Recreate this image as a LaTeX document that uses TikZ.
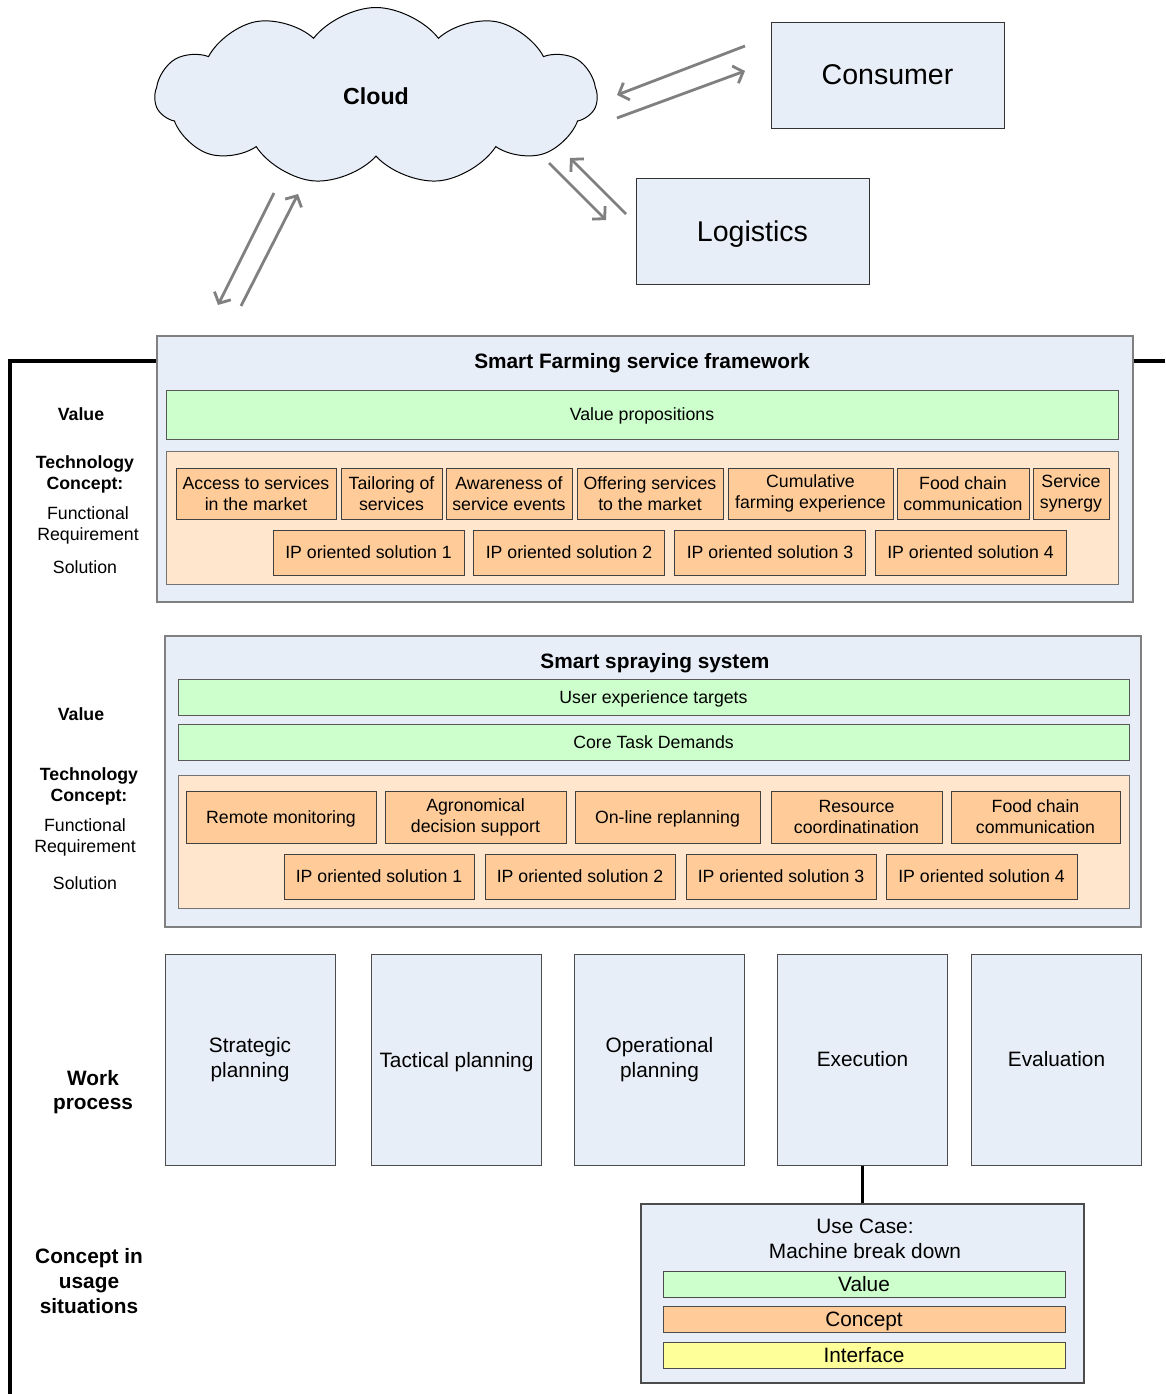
\documentclass[tikz,border=0pt]{standalone}
\usepackage{fontspec}
\setmainfont{Liberation Sans}
\usetikzlibrary{shapes.symbols,arrows.meta}

\definecolor{paneblue}{RGB}{232,238,247}
\definecolor{valgreen}{RGB}{204,255,204}
\definecolor{concpeach}{RGB}{255,230,204}
\definecolor{fncorange}{RGB}{255,204,153}
\definecolor{ifyellow}{RGB}{255,255,153}
\definecolor{arrowgray}{RGB}{128,128,128}

\newcommand{\fsmall}{\fontsize{12.6}{15}\selectfont}
\newcommand{\fmid}{\fontsize{14.8}{17.6}\selectfont}
\newcommand{\flarge}{\fontsize{20.3}{24}\selectfont}

\tikzset{
  wh/.style 2 args={minimum width=#1*0.025cm, minimum height=#2*0.025cm},
  oneline/.style={text depth=0pt},
  pane/.style={draw=gray, fill=paneblue, line width=0.8pt, inner sep=0pt},
  actor/.style={draw=black!80, fill=paneblue, line width=0.7pt, inner sep=0pt, font=\flarge, wh={233}{106}},
  valbar/.style={draw=black!65, fill=valgreen, line width=0.7pt, inner sep=0pt, font=\fsmall, oneline},
  concbg/.style={draw=black!55, fill=concpeach, line width=0.7pt, inner sep=0pt},
  fnc/.style={draw=black!75, fill=fncorange, line width=0.7pt, inner sep=0pt, align=center, font=\fsmall},
  workbox/.style={draw=black!70, fill=paneblue, line width=0.7pt, inner sep=0pt, align=center, font=\fmid, wh={170}{211}},
  casebar/.style={draw=black!70, line width=0.7pt, inner sep=0pt, font=\fmid, oneline, wh={402}{26}},
  rowlabel/.style={align=center, font=\fsmall, inner sep=0pt},
  flow/.style={draw=arrowgray, line width=2pt, -{Straight Barb[length=6pt,width=13pt]}},
  frame/.style={draw=black, line width=2.2pt}
}

\begin{document}
\begin{tikzpicture}[x=0.025cm, y=-0.025cm]
\useasboundingbox (0,0) rectangle (1165,1394);

\draw[frame] (10,1394) |- (1165,361);

\node[cloud, cloud puffs=11, cloud puff arc=105, draw=black, line width=0.7pt, fill=paneblue,
  wh={442}{177}, inner sep=0pt, font=\fontsize{16.5}{20}\selectfont\bfseries] (cloud) at (376,96) {Cloud};
\node[actor] (consumer) at (887.5,75) {Consumer};
\node[actor, oneline] (logistics) at (752.5,231) {Logistics};

\coordinate (cons1) at (745,46);
\coordinate (cons2) at (617,95);
\coordinate (cons3) at (617,118);
\coordinate (cons4) at (745,71);
\coordinate (logi1) at (549,163);
\coordinate (logi2) at (606,220);
\coordinate (logi3) at (626,214);
\coordinate (logi4) at (570,158);
\coordinate (fram1) at (274,193);
\coordinate (fram2) at (218,305);
\coordinate (fram3) at (241,306);
\coordinate (fram4) at (298,194);
\draw[flow] (cons1) -- (cons2);
\draw[flow] (cons3) -- (cons4);
\draw[flow] (logi1) -- (logi2);
\draw[flow] (logi3) -- (logi4);
\draw[flow] (fram1) -- (fram2);
\draw[flow] (fram3) -- (fram4);

\node[pane, wh={976}{266}] (farming) at (645,469) {};
\node[font=\fontsize{14.8}{17.6}\selectfont\bfseries, oneline] (farmtitle) at (642,361) {Smart Farming service framework};
\node[valbar, wh={952}{49}] (propositions) at (642,414.5) {Value propositions};
\node[concbg, wh={952}{133}] (farmconc) at (642,517.5) {};
\node[fnc, wh={160}{51}] (access) at (256,493.5) {Access to services\\in the market};
\node[fnc, wh={101}{51}] (tailoring) at (391.5,493.5) {Tailoring of\\services};
\node[fnc, wh={126}{51}] (awareness) at (509,493.5) {Awareness of\\service events};
\node[fnc, wh={146}{51}] (offering) at (650,493.5) {Offering services\\to the market};
\node[fnc, wh={165}{51}] (cumulative) at (810.5,493.5) {Cumulative\\farming experience};
\node[fnc, wh={132}{51}] (foodchain) at (963,493.5) {Food chain\\communication};
\node[fnc, wh={76}{51}] (synergy) at (1071,493.5) {Service\\synergy};
\node[fnc, wh={191}{45}] (farmip1) at (368.5,552.5) {IP oriented solution 1};
\node[fnc, wh={191}{45}] (farmip2) at (569,552.5) {IP oriented solution 2};
\node[fnc, wh={191}{45}] (farmip3) at (770,552.5) {IP oriented solution 3};
\node[fnc, wh={191}{45}] (farmip4) at (970.5,552.5) {IP oriented solution 4};

\node[rowlabel, font=\fsmall\bfseries] (farmvalue) at (81,414) {Value};
\node[rowlabel, font=\fsmall\bfseries] (farmtech) at (85,474.5) {Technology\\Concept:};
\node[rowlabel] (farmreq) at (88,525.5) {Functional\\Requirement};
\node[rowlabel] (farmsol) at (85,567) {Solution};

\node[pane, wh={976}{291}] (spraying) at (653,781.5) {};
\node[font=\fontsize{14.8}{17.6}\selectfont\bfseries, oneline] (spraytitle) at (655,661) {Smart spraying system};
\node[valbar, wh={951}{36}] (uxtargets) at (653.5,697) {User experience targets};
\node[valbar, wh={951}{36}] (coretask) at (653.5,742) {Core Task Demands};
\node[concbg, wh={951}{133}] (sprayconc) at (653.5,841.5) {};
\node[fnc, oneline, wh={190}{52}] (remote) at (281,817) {Remote monitoring};
\node[fnc, wh={181}{52}] (agronomical) at (475.5,817) {Agronomical\\decision support};
\node[fnc, oneline, wh={185}{52}] (replanning) at (667.5,817) {On-line replanning};
\node[fnc, wh={171}{52}] (resource) at (856.5,817) {Resource\\coordinatination};
\node[fnc, wh={169}{52}] (sprayfood) at (1035.5,817) {Food chain\\communication};
\node[fnc, wh={190}{45}] (sprayip1) at (379,876.5) {IP oriented solution 1};
\node[fnc, wh={190}{45}] (sprayip2) at (580,876.5) {IP oriented solution 2};
\node[fnc, wh={190}{45}] (sprayip3) at (781,876.5) {IP oriented solution 3};
\node[fnc, wh={191}{45}] (sprayip4) at (981.5,876.5) {IP oriented solution 4};

\node[rowlabel, font=\fsmall\bfseries] (sprayvalue) at (81,714) {Value};
\node[rowlabel, font=\fsmall\bfseries] (spraytech) at (89,786.5) {Technology\\Concept:};
\node[rowlabel] (sprayreq) at (85,837.5) {Functional\\Requirement};
\node[rowlabel] (spraysol) at (85,883) {Solution};

\node[workbox] (strategic) at (250,1059.5) {Strategic\\planning};
\node[workbox, oneline] (tactical) at (456.5,1059.5) {Tactical planning};
\node[workbox] (operational) at (659.5,1059.5) {Operational\\planning};
\node[workbox] (execution) at (862.5,1059.5) {Execution};
\node[workbox] (evaluation) at (1056.5,1059.5) {Evaluation};
\node[rowlabel, font=\fmid\bfseries] (workproc) at (93,1092) {Work\\process};

\node[pane, draw=black!70, wh={443}{179}] (usecase) at (862.5,1293.5) {};
\node[align=center, font=\fmid, inner sep=0pt] (casetitle) at (865,1239) {Use Case:\\Machine break down};
\node[casebar, fill=valgreen] (casevalue) at (864,1284) {Value};
\node[casebar, fill=fncorange] (caseconcept) at (864,1319) {Concept};
\node[casebar, fill=ifyellow] (caseinterface) at (864,1355) {Interface};
\node[rowlabel, font=\fmid\bfseries] (usagelabel) at (89,1281) {Concept in\\usage\\situations};

\draw[frame] (execution) -- (usecase);
\end{tikzpicture}
\end{document}
